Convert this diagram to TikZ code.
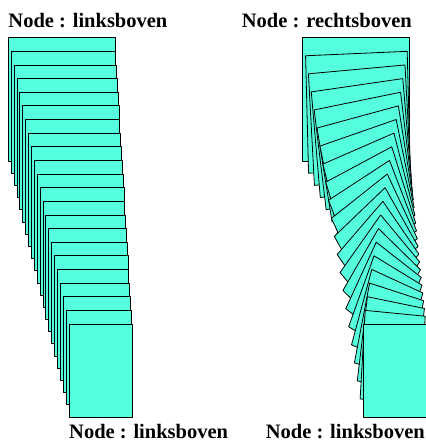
\documentclass[tikz,border=0pt]{standalone}
\usepackage{fontspec}
\setmainfont{Liberation Serif}
\usetikzlibrary{calc}
\definecolor{nodefill}{RGB}{85,255,222}
\begin{document}
\begin{tikzpicture}[x=1pt, y=-1pt,
  nodebox/.style={fill=nodefill, draw=black, line width=0.8pt, line join=round},
  caption/.style={font=\fontsize{20.5}{24}\selectfont\bfseries, inner sep=0pt}]
  \useasboundingbox (0,0) rectangle (425,441);

  % Stack 1: linksboven -> linksboven (corners of start and end node)
  \coordinate (la1) at (8.3,37.7);
  \coordinate (lb1) at (115,161);
  \coordinate (la2) at (69,324);
  \coordinate (lb2) at (132,417);
  \foreach \i in {0,...,21}{
    \pgfmathsetmacro\t{\i/21}
    \draw[nodebox] ($(la1)!\t!(la2)$) rectangle ($(lb1)!\t!(lb2)$);
  }

  % Stack 2: rechtsboven -> linksboven (node turns a quarter)
  \coordinate (tl1) at (302.7,37.7);
  \coordinate (tr1) at (409.4,37.7);
  \coordinate (br1) at (409.4,161);
  \coordinate (bl1) at (302.7,161);
  \coordinate (tl2) at (363,417);
  \coordinate (tr2) at (363,324);
  \coordinate (br2) at (426,324);
  \coordinate (bl2) at (426,417);
  \foreach \i in {0,...,21}{
    \pgfmathsetmacro\t{\i/21}
    \draw[nodebox] ($(tl1)!\t!(tl2)$) -- ($(tr1)!\t!(tr2)$)
      -- ($(br1)!\t!(br2)$) -- ($(bl1)!\t!(bl2)$) -- cycle;
  }

  % Captions
  \node[caption, anchor=base west] (startleft) at (8.3,28) {Node : linksboven};
  \node[caption, anchor=base east] (startright) at (412,28) {Node : rechtsboven};
  \node[caption, anchor=base west] (endleft) at (69,438) {Node : linksboven};
  \node[caption, anchor=base east] (endright) at (425,438) {Node : linksboven};
\end{tikzpicture}
\end{document}
